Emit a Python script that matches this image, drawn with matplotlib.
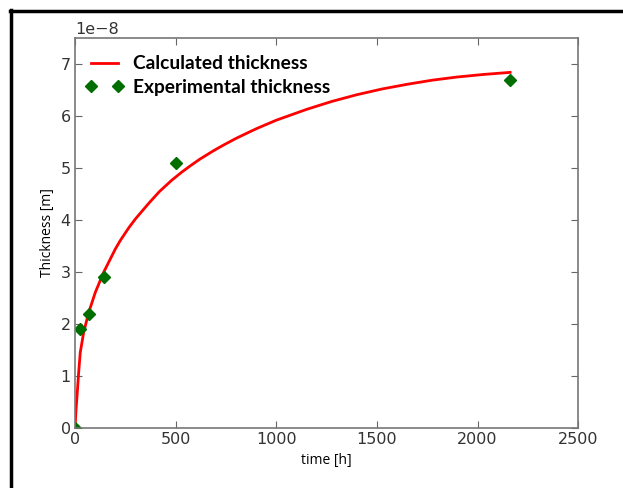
import numpy as np
import matplotlib
matplotlib.use('Agg')
import matplotlib.pyplot as plt
from matplotlib.lines import Line2D

# calculated thickness curve (time [h], thickness [1e-8 m])
calc_t = [0, 5, 10, 18, 26, 43, 68, 101, 143, 200, 224, 267, 300, 366, 420, 482, 530, 572,
          620, 687, 737, 800, 870, 903, 1000, 1152, 1275, 1400, 1525, 1649, 1775, 1897,
          2030, 2162]
calc_h = [0, 0.35, 0.61, 1.06, 1.45, 1.84, 2.22, 2.61, 3.0, 3.44, 3.60, 3.85, 4.02, 4.32,
          4.55, 4.77, 4.92, 5.04, 5.17, 5.33, 5.44, 5.57, 5.70, 5.76, 5.92, 6.13, 6.28,
          6.41, 6.52, 6.61, 6.69, 6.75, 6.80, 6.84]

# experimental points
exp_t = [0, 24, 72, 144, 500, 2160]
exp_h = [0, 1.9, 2.2, 2.9, 5.1, 6.7]

xticks = [0, 500, 1000, 1500, 2000, 2500]
yticks = [0, 1, 2, 3, 4, 5, 6, 7]

fig = plt.figure(figsize=(6.23, 4.88), dpi=100)
fig.patch.set_facecolor('white')
ax = fig.add_axes([0.1204, 0.123, 0.8076, 0.799])

ax.plot(calc_t, np.array(calc_h) * 1e-8, '-', color='#ff0000', linewidth=2,
        label='Calculated thickness')
ax.plot(exp_t, np.array(exp_h) * 1e-8, 'D', color='#006e00', markersize=6,
        markeredgecolor='#006e00', linestyle='None', label='Experimental thickness')

ax.set_xlim(0, 2500)
ax.set_ylim(0, 7.5e-8)
ax.set_xticks(xticks)
ax.set_yticks(np.array(yticks) * 1e-8)

ax.tick_params(direction='in', top=True, right=True, length=5, width=0.8,
               labelsize=11.5, labelcolor='#333333', color='#666666', pad=3)
ax.yaxis.get_offset_text().set_fontsize(11.5)
ax.yaxis.get_offset_text().set_color('#333333')
for sp in ax.spines.values():
    sp.set_color('#777777')
    sp.set_linewidth(1.2)

ax.set_xlabel('time [h]', fontsize=10, family=['Open Sans', 'DejaVu Sans'], labelpad=4)
ax.set_ylabel('Thickness [m]', fontsize=10, family=['Open Sans', 'DejaVu Sans'], labelpad=4)

leg = ax.legend(loc='upper left', bbox_to_anchor=(-0.014, 1.0), frameon=False,
                numpoints=2, handlelength=2.0, handletextpad=0.5, labelspacing=0.35,
                borderaxespad=0.5,
                prop={'family': 'Lato', 'weight': 'bold', 'size': 13.8})

# black frame of the screenshot (top and left)
fig.add_artist(Line2D([10 / 623, 1.0], [1 - 10.5 / 488, 1 - 10.5 / 488],
                      transform=fig.transFigure, color='black', linewidth=2.5))
fig.add_artist(Line2D([11 / 623, 11 / 623], [0, 1 - 9.5 / 488],
                      transform=fig.transFigure, color='black', linewidth=2.5))

fig.savefig('out.png', dpi=100)
